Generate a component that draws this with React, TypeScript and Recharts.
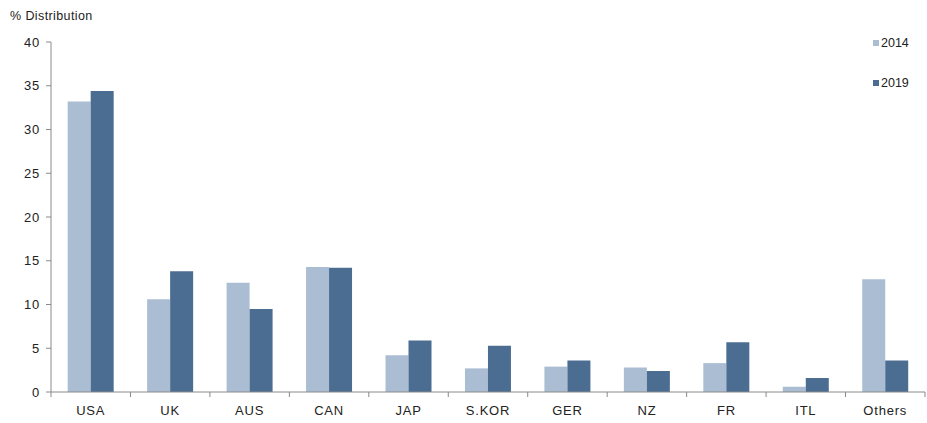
import { BarChart, Bar, XAxis, YAxis } from "recharts";

const countries = ["USA", "UK", "AUS", "CAN", "JAP", "S.KOR", "GER", "NZ", "FR", "ITL", "Others"];
const share2014 = [33.2, 10.6, 12.5, 14.3, 4.2, 2.7, 2.9, 2.8, 3.3, 0.6, 12.9];
const share2019 = [34.4, 13.8, 9.5, 14.2, 5.9, 5.3, 3.6, 2.4, 5.7, 1.6, 3.6];
const yTicks = [0, 5, 10, 15, 20, 25, 30, 35, 40];

const LIGHT = "#aabdd3";
const DARK = "#4b6d92";
const AXIS = "#8a8a8a";
const FONT = "'Liberation Sans', Arial, sans-serif";

const data = countries.map((name, i) => ({
  name,
  y2014: share2014[i],
  y2019: share2019[i],
}));

const series = [
  { key: "y2014", label: "2014", color: LIGHT },
  { key: "y2019", label: "2019", color: DARK },
];

// category label plus a tick mark on the boundary to its left (and right for the last one)
function CategoryTick(props: any) {
  const { x, y, payload, index } = props;
  const half = payload.offset ?? 0;
  return (
    <g>
      <line x1={x - half} x2={x - half} y1={y} y2={y + 5} stroke={AXIS} />
      {index === countries.length - 1 && (
        <line x1={x + half} x2={x + half} y1={y} y2={y + 5} stroke={AXIS} />
      )}
      <text
        x={x}
        y={y + 14}
        dy="0.71em"
        textAnchor="middle"
        fill="#222"
        fontSize={13}
        fontFamily={FONT}
        letterSpacing={0.8}
      >
        {payload.value}
      </text>
    </g>
  );
}

export default function App() {
  return (
    <div style={{ position: "absolute", left: 0, top: 0, width: 927, height: 423, background: "#fff", fontFamily: FONT }}>
      <div style={{ position: "absolute", left: 10, top: 9, fontSize: 12.5, letterSpacing: 0.4, color: "#222" }}>% Distribution</div>
      <BarChart
        width={927}
        height={423}
        data={data}
        margin={{ top: 42, right: 2, left: 0, bottom: 0 }}
        barCategoryGap="21%"
        barGap={0}
      >
        <XAxis
          dataKey="name"
          height={31}
          axisLine={{ stroke: AXIS }}
          tickLine={false}
          tickSize={0}
          tickMargin={0}
          interval={0}
          tick={<CategoryTick />}
        />
        <YAxis
          width={51}
          domain={[0, 40]}
          ticks={yTicks}
          axisLine={{ stroke: AXIS }}
          tickLine={{ stroke: AXIS }}
          tickSize={5}
          tickMargin={6}
          tick={{ fontSize: 13, fill: "#222", fontFamily: FONT, letterSpacing: 0.8 }}
        />
        {series.map((s) => (
          <Bar key={s.key} dataKey={s.key} fill={s.color} isAnimationActive={false} />
        ))}
      </BarChart>
      <div style={{ position: "absolute", left: 873, top: 35, fontSize: 12.5, color: "#222" }}>
        {series.map((s) => (
          <div key={s.key} style={{ display: "flex", alignItems: "center", height: 16, marginBottom: 24 }}>
            <span style={{ display: "inline-block", width: 6, height: 6, background: s.color, marginRight: 2 }} />
            {s.label}
          </div>
        ))}
      </div>
    </div>
  );
}
